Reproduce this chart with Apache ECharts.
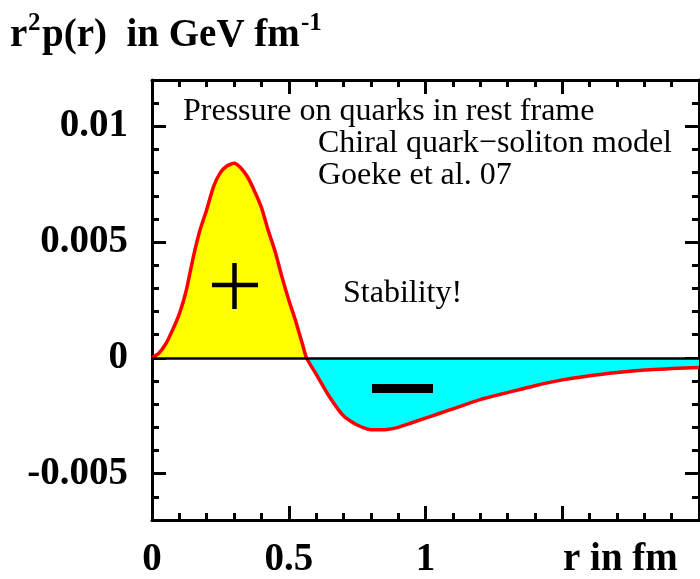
<!DOCTYPE html>
<html>
<head>
<meta charset="utf-8">
<script src="https://cdn.jsdelivr.net/npm/echarts@6/dist/echarts.min.js"></script>
<style>
  html, body { margin: 0; padding: 0; background: #fff; overflow: hidden; }
  #chart { width: 702px; height: 579px; }
</style>
</head>
<body>
<div id="chart"></div>
<script>
// r in fm
const rValues = [0, 0.025, 0.05, 0.075, 0.1, 0.125, 0.15, 0.175, 0.2, 0.225, 0.25, 0.275, 0.3,
  0.325, 0.35, 0.375, 0.4, 0.425, 0.45, 0.475, 0.5, 0.525, 0.55, 0.565, 0.6, 0.65, 0.7, 0.75,
  0.8, 0.85, 0.9, 0.95, 1.0, 1.05, 1.1, 1.2, 1.3, 1.4, 1.5, 1.6, 1.7, 1.8, 1.9, 2.0]
// r^2 p(r) in GeV fm^-1
const pressure = [0, 0.0002, 0.0006, 0.0012, 0.0019, 0.0029, 0.0043, 0.0055, 0.0064, 0.0074, 0.008, 0.0083, 0.0084,
  0.0082, 0.0078, 0.0072, 0.0065, 0.0055, 0.0046, 0.0035, 0.0025, 0.0016, 0.0006, 0, -0.0007, -0.0017, -0.0025, -0.0029,
  -0.0031, -0.0031, -0.003, -0.0028, -0.0026, -0.0024, -0.0022, -0.0018, -0.0015, -0.0012, -0.00095, -0.00077, -0.00063, -0.00052, -0.00046, -0.00041]

const xLabelValues = [0, 0.5, 1]
const yMajorTicks = [-0.005, 0, 0.005, 0.01]

const serif = '"Liberation Serif", "Times New Roman", serif'

const points = rValues.map((r, i) => [r, pressure[i]])
const positive = points.map(([r, v]) => [r, Math.max(v, 0)])
const negative = points.map(([r, v]) => [r, Math.min(v, 0)])

const chart = echarts.init(document.getElementById('chart'))

const frameLine = { show: true, onZero: false, lineStyle: { color: '#000', width: 3 } }
const noLine = { show: false, onZero: false }
const xBase = { type: 'value', min: 0, max: 2, interval: 0.5, splitLine: { show: false } }
const yBase = { type: 'value', min: -0.007, max: 0.012, splitLine: { show: false } }
const majorX = { inside: true, length: 14, lineStyle: { color: '#000', width: 3 } }
const minorX = { show: true, splitNumber: 5, length: 7, lineStyle: { color: '#000', width: 3 } }

chart.setOption({
  animation: false,
  grid: { left: 152, right: 0, top: 80, bottom: 57 },
  xAxis: [
    Object.assign({}, xBase, {
      position: 'bottom',
      axisLine: frameLine,
      axisTick: majorX,
      minorTick: minorX,
      axisLabel: {
        margin: 20,
        color: '#000',
        fontFamily: serif,
        fontWeight: 'bold',
        fontSize: 39,
        formatter: (v) => xLabelValues.some(x => Math.abs(x - v) < 1e-9) ? String(v) : ''
      }
    }),
    Object.assign({}, xBase, {
      position: 'top',
      axisLine: frameLine,
      axisTick: majorX,
      minorTick: minorX,
      axisLabel: { show: false }
    })
  ],
  yAxis: [
    Object.assign({}, yBase, {
      position: 'left',
      interval: 0.001,
      axisLine: frameLine,
      axisTick: { inside: true, length: 7, lineStyle: { color: '#000', width: 3 } },
      axisLabel: {
        margin: 24,
        color: '#000',
        fontFamily: serif,
        fontWeight: 'bold',
        fontSize: 39,
        formatter: (v) => yMajorTicks.some(y => Math.abs(y - v) < 1e-9) ? String(Number(v.toFixed(3))) : ''
      }
    }),
    Object.assign({}, yBase, {
      position: 'left',
      axisLine: noLine,
      axisTick: { inside: true, length: 14, customValues: yMajorTicks, lineStyle: { color: '#000', width: 3 } },
      axisLabel: { show: false }
    }),
    Object.assign({}, yBase, {
      position: 'right',
      interval: 0.001,
      axisLine: frameLine,
      axisTick: { inside: true, length: 7, lineStyle: { color: '#000', width: 3 } },
      axisLabel: { show: false }
    }),
    Object.assign({}, yBase, {
      position: 'right',
      axisLine: noLine,
      axisTick: { inside: true, length: 14, customValues: yMajorTicks, lineStyle: { color: '#000', width: 3 } },
      axisLabel: { show: false }
    })
  ],
  series: [
    {
      type: 'line',
      data: positive,
      symbol: 'none',
      smooth: 0.2,
      lineStyle: { width: 0 },
      areaStyle: { color: '#ffff00', opacity: 1 },
      z: 1
    },
    {
      type: 'line',
      data: negative,
      symbol: 'none',
      smooth: 0.2,
      lineStyle: { width: 0 },
      areaStyle: { color: '#00ffff', opacity: 1 },
      z: 1
    },
    {
      type: 'line',
      data: points,
      symbol: 'none',
      smooth: 0.2,
      lineStyle: { color: '#ff0000', width: 3.5 },
      z: 3,
      markLine: {
        silent: true,
        symbol: 'none',
        label: { show: false },
        lineStyle: { color: '#000', width: 2.5, type: 'solid' },
        data: [{ yAxis: 0 }]
      }
    }
  ],
  graphic: [
    // y axis title: r^2 p(r) in GeV fm^-1
    { type: 'text', left: 10, top: 16, style: { text: 'r', font: 'bold 39px ' + serif, fill: '#000' } },
    { type: 'text', left: 28, top: 11, style: { text: '2', font: 'bold 25px ' + serif, fill: '#000' } },
    { type: 'text', left: 42, top: 16, style: { text: 'p(r)  in GeV fm', font: 'bold 39px ' + serif, fill: '#000' } },
    { type: 'text', left: 301, top: 11, style: { text: '-1', font: 'bold 25px ' + serif, fill: '#000' } },
    {
      type: 'text',
      left: 183,
      top: 96,
      style: { text: 'Pressure on quarks in rest frame', font: '32px ' + serif, fill: '#000' }
    },
    {
      type: 'text',
      left: 318,
      top: 128,
      style: { text: 'Chiral quark\u2212soliton model\nGoeke et al. 07', font: '32px ' + serif, lineHeight: 32, fill: '#000' }
    },
    {
      type: 'text',
      left: 343,
      top: 278,
      style: { text: 'Stability!', font: '32px ' + serif, fill: '#000' }
    },
    {
      type: 'text',
      left: 563,
      top: 540,
      style: { text: 'r in fm', font: 'bold 39px ' + serif, fill: '#000' }
    },
    // "+" in the positive region
    { type: 'line', shape: { x1: 212, y1: 285, x2: 258, y2: 285 }, style: { stroke: '#000', lineWidth: 4.5 }, z: 10 },
    { type: 'line', shape: { x1: 234.5, y1: 263, x2: 234.5, y2: 309 }, style: { stroke: '#000', lineWidth: 4.5 }, z: 10 },
    // "-" in the negative region
    { type: 'rect', shape: { x: 372, y: 384, width: 61, height: 9 }, style: { fill: '#000' }, z: 10 }
  ]
})
</script>
</body>
</html>
